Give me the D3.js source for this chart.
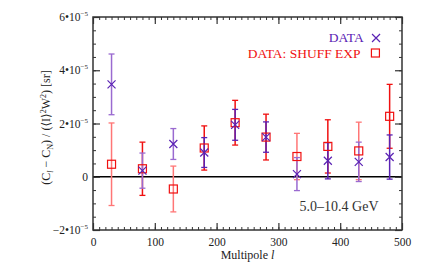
<!DOCTYPE html>
<html>
<head>
<meta charset="utf-8">
<script src="https://cdn.jsdelivr.net/npm/d3@7"></script>
<style>
  body { margin: 0; background: #fff; }
  text { font-family: "Liberation Serif", "DejaVu Serif", serif; }
</style>
</head>
<body>
<div id="chart"></div>
<script>
// data (values in units of 1e-5)
var multipoles = [30, 80, 130, 180, 230, 280, 330, 380, 430, 480];
var dataVals   = [3.47, 0.23, 1.23, 0.91, 1.95, 1.49, 0.10, 0.60, 0.56, 0.74];
var dataErrs   = [1.14, 0.66, 0.58, 0.56, 0.58, 0.57, 0.62, 0.68, 0.74, 0.83];
var shuffVals  = [0.47, 0.30, -0.46, 1.08, 2.03, 1.49, 0.76, 1.14, 0.97, 2.27];
var shuffErrs  = [1.55, 1.00, 0.86, 0.83, 0.84, 0.86, 0.87, 1.00, 1.08, 1.20];
var yTicks = [-2, 0, 2, 4, 6];
var xTicks = [0, 100, 200, 300, 400, 500];

// bars that look faded in the original
var lightData  = [0, 1, 2, 6, 8];
var lightShuff = [0, 2, 6, 8];

var purple = "#5a22b4", purpleLight = "#9a6ad0";
var red = "#f01010", redLight = "#ff7676";

var W = 436, H = 273;
var margin = {top: 17, right: 34, bottom: 43, left: 93};
var width = W - margin.left - margin.right,
    height = H - margin.top - margin.bottom;

var svg = d3.select("#chart").append("svg")
    .attr("width", W).attr("height", H);

var g = svg.append("g")
    .attr("transform", "translate(" + margin.left + "," + margin.top + ")");

var x = d3.scaleLinear().domain([0, 500]).range([0, width]);
var y = d3.scaleLinear().domain([-2, 6]).range([height, 0]);

// zero line
g.append("line")
  .attr("x1", 0).attr("x2", width)
  .attr("y1", y(0)).attr("y2", y(0))
  .attr("stroke", "#000").attr("stroke-width", 1.5);

function errorBars(vals, errs, lightIdx, dark, light, sw) {
  var grp = g.append("g");
  multipoles.forEach(function(m, i) {
    var c = lightIdx.indexOf(i) >= 0 ? light : dark;
    var cx = x(m), t = y(vals[i] + errs[i]), b = y(vals[i] - errs[i]);
    grp.append("line").attr("x1", cx).attr("x2", cx).attr("y1", t).attr("y2", b)
      .attr("stroke", c).attr("stroke-width", sw);
    [t, b].forEach(function(yy) {
      grp.append("line").attr("x1", cx - 3).attr("x2", cx + 3).attr("y1", yy).attr("y2", yy)
        .attr("stroke", c).attr("stroke-width", 1.3);
    });
  });
}

errorBars(shuffVals, shuffErrs, lightShuff, red, redLight, 1.5);
errorBars(dataVals, dataErrs, lightData, purple, purpleLight, 1.5);

// square markers
g.append("g").selectAll("rect")
  .data(multipoles)
  .enter().append("rect")
    .attr("x", function(d) { return x(d) - 4; })
    .attr("y", function(d, i) { return y(shuffVals[i]) - 4; })
    .attr("width", 8).attr("height", 8)
    .attr("fill", "none").attr("stroke", red).attr("stroke-width", 1.2);

// cross markers
g.append("g").selectAll("path")
  .data(multipoles)
  .enter().append("path")
    .attr("d", function(d, i) {
      var cx = x(d), cy = y(dataVals[i]), s = 4;
      return "M" + (cx - s) + "," + (cy - s) + "L" + (cx + s) + "," + (cy + s) +
             "M" + (cx - s) + "," + (cy + s) + "L" + (cx + s) + "," + (cy - s);
    })
    .attr("stroke", purple).attr("stroke-width", 1.2).attr("fill", "none");

// axes: frame and ticks on all four sides
var axisColor = "#333";
function tickAxis(axisFn, scale, major, minorStep, transform) {
  var minor = d3.range(scale.domain()[0], scale.domain()[1] + 1e-9, minorStep);
  g.append("g").attr("transform", transform)
    .call(axisFn(scale).tickValues(minor).tickSize(3).tickFormat(""))
    .call(function(s) { s.select(".domain").remove(); s.selectAll("line").attr("stroke", axisColor); });
  var a = g.append("g").attr("transform", transform)
    .call(axisFn(scale).tickValues(major).tickSize(7).tickFormat(""));
  a.select(".domain").remove();
  a.selectAll("line").attr("stroke", axisColor).attr("stroke-width", 1.2);
  return a;
}

tickAxis(function(s) { return d3.axisTop(s); }, x, xTicks, 10, "translate(0," + height + ")");
tickAxis(function(s) { return d3.axisBottom(s); }, x, xTicks, 10, "translate(0,0)");
tickAxis(function(s) { return d3.axisRight(s); }, y, yTicks, 0.5, "translate(0,0)");
tickAxis(function(s) { return d3.axisLeft(s); }, y, yTicks, 0.5, "translate(" + width + ",0)");

var xb = g.append("g").attr("transform", "translate(0," + height + ")")
  .call(d3.axisBottom(x).tickValues(xTicks).tickSize(0).tickPadding(8));
xb.select(".domain").remove();
xb.selectAll("text").attr("fill", "#222").style("font-size", "11.5px");

// y tick labels with powers of ten
var yl = g.append("g");
yTicks.forEach(function(v) {
  var t = yl.append("text")
    .attr("x", -5).attr("y", y(v) + 4)
    .attr("text-anchor", "end")
    .attr("fill", "#222").style("font-size", "11.5px");
  if (v === 0) { t.text("0"); return; }
  t.append("tspan").text((v < 0 ? "\u2212" : "") + Math.abs(v) + "\u2022" + "10");
  t.append("tspan").attr("dy", -5).style("font-size", "7px").text("\u22125");
});

g.append("rect")
  .attr("width", width).attr("height", height)
  .attr("fill", "none").attr("stroke", axisColor).attr("stroke-width", 1.5);

// axis titles
svg.append("text")
  .attr("x", margin.left + width / 2).attr("y", 259)
  .attr("text-anchor", "middle").attr("fill", "#222").style("font-size", "12px")
  .html("Multipole <tspan font-style='italic'>l</tspan>");

var yt = svg.append("text")
  .attr("transform", "translate(50," + (margin.top + height / 2 + 4) + ") rotate(-90)")
  .attr("text-anchor", "middle").attr("fill", "#222").style("font-size", "12px");
yt.append("tspan").text("(C");
yt.append("tspan").attr("dy", 3).style("font-size", "8px").style("font-style", "italic").text("l");
yt.append("tspan").attr("dy", -3).text(" \u2212 C");
yt.append("tspan").attr("dy", 3).style("font-size", "8px").text("N");
yt.append("tspan").attr("dy", -3).text(") / (\u27E8I\u27E9");
yt.append("tspan").attr("dy", -4).style("font-size", "8px").text("2");
yt.append("tspan").attr("dy", 4).text("W");
yt.append("tspan").attr("dy", -4).style("font-size", "8px").text("2");
yt.append("tspan").attr("dy", 4).text(")  [sr]");

// legend
var lg = g.append("g");
lg.append("text").attr("x", x(438)).attr("y", 25)
  .attr("text-anchor", "end").attr("fill", purple).style("font-size", "13.5px").text("DATA");
lg.append("path")
  .attr("d", "M" + (x(458) - 4) + ",17L" + (x(458) + 4) + ",25M" + (x(458) - 4) + ",25L" + (x(458) + 4) + ",17")
  .attr("stroke", purple).attr("stroke-width", 1.2);
lg.append("text").attr("x", x(433)).attr("y", 41)
  .attr("text-anchor", "end").attr("fill", red).style("font-size", "13.5px").text("DATA: SHUFF EXP");
lg.append("rect").attr("x", x(457) - 4).attr("y", 32).attr("width", 8).attr("height", 8)
  .attr("fill", "none").attr("stroke", red).attr("stroke-width", 1.2);

// energy band
g.append("text").attr("x", x(462)).attr("y", y(-1.3))
  .attr("text-anchor", "end").attr("fill", "#333").style("font-size", "14px")
  .text("5.0\u201310.4 GeV");
</script>
</body>
</html>
